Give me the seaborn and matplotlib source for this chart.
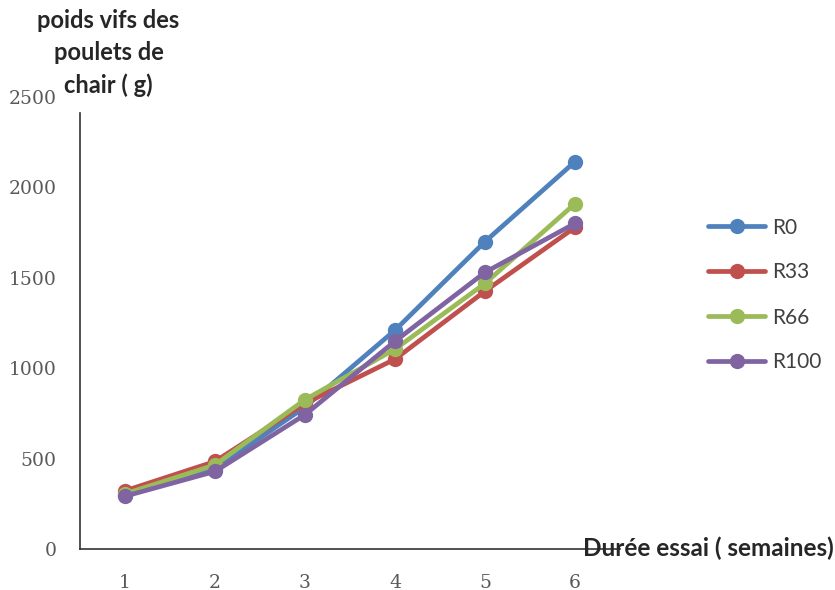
import numpy as np
import pandas as pd
import seaborn as sns
import matplotlib.pyplot as plt

# data
semaines = [1, 2, 3, 4, 5, 6]
r0 = [300, 445, 785, 1210, 1700, 2142]
r33 = [322, 484, 805, 1050, 1426, 1779]
r66 = [305, 465, 826, 1105, 1469, 1910]
r100 = [292, 429, 743, 1149, 1530, 1801]
series = ["R0", "R33", "R66", "R100"]
colors = ["#4F81BD", "#C0504D", "#9BBB59", "#8064A2"]

df = pd.DataFrame({
    "semaine": semaines * 4,
    "poids": r0 + r33 + r66 + r100,
    "serie": np.repeat(series, len(semaines)),
})

sns.set_style("white")
plt.rcParams["font.family"] = ["Lato", "DejaVu Sans"]

fig = plt.figure(figsize=(8.35, 5.9), dpi=100)
ax = fig.add_axes([0.0958, 0.0695, 0.6467, 0.7661])

sns.lineplot(data=df, x="semaine", y="poids", hue="serie", hue_order=series,
             palette=colors, marker="o", markersize=11, linewidth=3.4,
             markeredgewidth=0, ax=ax)

ax.set_xlim(0.5, 6.5)
ax.set_ylim(0, 2500)
ax.set_xticks(semaines)
ax.set_yticks([0, 500, 1000, 1500, 2000, 2500])
ax.tick_params(axis="both", length=0, labelsize=13.5, labelcolor="#595959")
ax.tick_params(axis="x", pad=18)
ax.tick_params(axis="y", pad=17)
for lab in ax.get_xticklabels() + ax.get_yticklabels():
    lab.set_family(["DejaVu Serif"])
ax.set_xlabel("")
ax.set_ylabel("")
sns.despine(ax=ax)
for s in ["left", "bottom"]:
    ax.spines[s].set_color("#333333")
    ax.spines[s].set_linewidth(1.2)
# the title sits over the top of the value axis
ax.spines["left"].set_bounds(0, 2410)

# legend on the right
handles, labels = ax.get_legend_handles_labels()
ax.legend(handles, labels, loc="center left", bbox_to_anchor=(0.826, 0.5),
          bbox_transform=fig.transFigure, frameon=False, fontsize=15,
          labelspacing=1.2, handlelength=2.7, handletextpad=0.35,
          labelcolor="#404040")

# axis titles
fig.text(0.13, 0.985, "poids vifs des\npoulets de\nchair ( g)", ha="center",
         va="top", fontsize=17, fontweight="bold", linespacing=1.47)
fig.text(0.998, 0.071, "Durée essai ( semaines)", ha="right", va="center",
         fontsize=17.5, fontweight="bold")

fig.savefig("out.png", dpi=100)
